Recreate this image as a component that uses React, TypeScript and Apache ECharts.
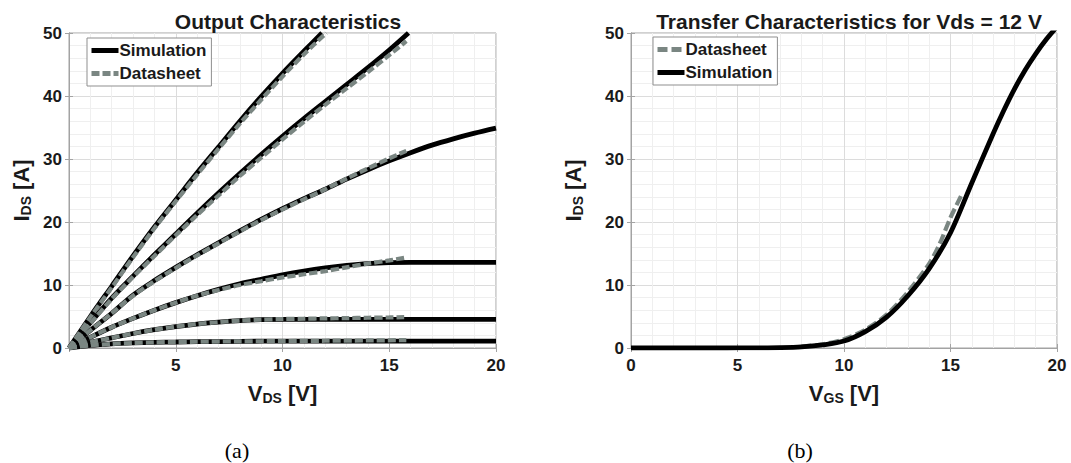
import React, { useEffect, useRef } from "react";
import * as echarts from "echarts";

// ---- Output characteristics (a): simulation curves [V_DS, I_DS]
const SIM_1 = [[0,0],[1,5],[2,9.8],[3,14.6],[4,19.2],[5,23.5],[6,27.8],[7,31.9],[8,36],[9,39.9],[10,43.6],[11,47.1],[11.85,50]];
const SIM_2 = [[0,0],[1,4],[2,7.9],[3,11.4],[4,14.8],[5,18.1],[6,21.4],[7,24.6],[8,27.7],[9,30.7],[10,33.6],[11,36.4],[12,39.1],[13,41.8],[14,44.5],[15,47.3],[15.9,50]];
const SIM_3 = [[0,0],[1,2.8],[2,5.5],[3,8.4],[4,10.7],[5,12.8],[6,14.8],[7,16.7],[8,18.6],[9,20.4],[10,22.1],[11,23.7],[12,25.2],[13,26.8],[14,28.3],[15,29.7],[16,31],[17,32.2],[18,33.2],[19,34.1],[20,34.9]];
const SIM_4 = [[0,0],[1,1.7],[2,3.3],[3,4.7],[4,6],[5,7.2],[6,8.3],[7,9.3],[8,10.2],[9,10.9],[10,11.6],[11,12.2],[12,12.7],[13,13.1],[14,13.4],[15,13.55],[16,13.6],[20,13.6]];
const SIM_5 = [[0,0],[1,0.9],[2,1.6],[3,2.3],[4,2.9],[5,3.4],[6,3.8],[7,4.1],[8,4.35],[9,4.5],[10,4.55],[11,4.55],[20,4.55]];
const SIM_6 = [[0,0],[1,0.4],[2,0.65],[3,0.8],[4,0.9],[5,0.95],[6,1],[8,1.05],[10,1.1],[20,1.1]];

// ---- Output characteristics (a): datasheet curves
const DS_1 = [[0,0],[1,4.9],[2,9.6],[3,14.4],[4,19],[5,23.3],[6,27.5],[7,31.6],[8,35.6],[9,39.4],[10,43.1],[11,46.6],[12.05,50]];
const DS_2 = [[0,0],[1,3.9],[2,7.8],[3,11.3],[4,14.6],[5,17.9],[6,21.1],[7,24.2],[8,27.3],[9,30.2],[10,33.1],[11,35.9],[12,38.6],[13,41.2],[14,43.8],[15,46.5],[15.8,48.7]];
const DS_3 = [[0,0],[1,2.8],[2,5.5],[3,8.3],[4,10.6],[5,12.7],[6,14.7],[7,16.6],[8,18.5],[9,20.3],[10,22],[11,23.6],[12,25.2],[13,26.9],[14,28.5],[15,30.1],[15.8,31.3]];
const DS_4 = [[0,0],[1,1.7],[2,3.3],[3,4.7],[4,6],[5,7.2],[6,8.3],[7,9.2],[8,10],[9,10.6],[10,11.2],[11,11.7],[12,12.2],[13,12.8],[14,13.4],[15,13.9],[15.7,14.3]];
const DS_5 = [[0,0],[1,0.9],[2,1.6],[3,2.3],[4,2.9],[5,3.4],[6,3.8],[7,4.1],[8,4.35],[9,4.5],[10,4.6],[11,4.65],[12,4.7],[13,4.75],[14,4.8],[15,4.85],[15.7,4.9]];
const DS_6 = [[0,0],[1,0.4],[2,0.65],[3,0.8],[4,0.9],[5,0.95],[6,1],[8,1.05],[10,1.1],[12,1.15],[14,1.2],[15.8,1.25]];

// ---- Transfer characteristics (b) [V_GS, I_DS]
const TR_SIM = [[0,0],[2,0],[4,0],[5,0.01],[6,0.02],[7,0.06],[8,0.18],[9,0.5],[10,1.1],[11,2.6],[12,4.9],[13,8.3],[14,12.6],[15,18.3],[16,26.2],[17,34],[17.5,37.7],[18,41.1],[18.5,44.1],[19,46.7],[19.5,49],[20,51]];
const TR_DS = [[8,0.22],[9,0.6],[10,1.4],[11,2.9],[12,5.3],[13,8.9],[14,13.4],[14.5,16.6],[15,20.7],[15.55,24.5]];

// ---- Ticks
const X_TICKS = [0, 5, 10, 15, 20];
const Y_TICKS = [0, 10, 20, 30, 40, 50];

const FONT = "'Liberation Sans', Arial, Helvetica, sans-serif";
const SERIF = "'Liberation Serif', 'Times New Roman', serif";
const TXT = "#1a1a1a";
const SIM_COLOR = "#000000";
const DS_COLOR = "#7a8682";
const FRAME = "#a3a3a3";

function axisName(main: string, sub: string, unit: string) {
  return `{m|${main}}{s|${sub}}{m| ${unit}}`;
}
const nameRich = {
  m: { fontSize: 22, fontWeight: "bold", fontFamily: FONT, color: TXT },
  s: { fontSize: 14, fontWeight: "bold", fontFamily: FONT, color: TXT, padding: [9, 0, 0, 0] },
};

function xAxes(gridIndex: number, hideZero: boolean, name: string, gap: number) {
  const base = {
    type: "value",
    gridIndex,
    min: X_TICKS[0],
    max: X_TICKS[X_TICKS.length - 1],
    interval: X_TICKS[1] - X_TICKS[0],
  };
  return [
    {
      ...base,
      position: "bottom",
      name,
      nameLocation: "middle",
      nameGap: gap,
      nameTextStyle: { rich: nameRich },
      axisLine: { show: true, lineStyle: { color: FRAME, width: 1 } },
      axisTick: { show: true, inside: true, length: 4, lineStyle: { color: FRAME } },
      axisLabel: {
        color: TXT,
        fontSize: 17,
        fontWeight: "bold",
        fontFamily: FONT,
        margin: 9,
        formatter: (v: number) => (hideZero && v === 0 ? "" : String(v)),
      },
      splitLine: { show: true, lineStyle: { color: "#dcdcdc", width: 1 } },
      minorTick: { show: false, splitNumber: 5 },
      minorSplitLine: { show: true, lineStyle: { color: "#efefef", width: 1 } },
    },
    {
      ...base,
      position: "top",
      axisLine: { show: true, lineStyle: { color: FRAME, width: 1 } },
      axisTick: { show: true, inside: true, length: 4, lineStyle: { color: FRAME } },
      axisLabel: { show: false },
      splitLine: { show: false },
    },
  ];
}

function yAxes(gridIndex: number, name: string, gap: number) {
  const base = {
    type: "value",
    gridIndex,
    min: Y_TICKS[0],
    max: Y_TICKS[Y_TICKS.length - 1],
    interval: Y_TICKS[1] - Y_TICKS[0],
  };
  return [
    {
      ...base,
      position: "left",
      name,
      nameLocation: "middle",
      nameGap: gap,
      nameRotate: 90,
      nameTextStyle: { rich: nameRich },
      axisLine: { show: true, lineStyle: { color: FRAME, width: 1 } },
      axisTick: { show: true, inside: true, length: 4, lineStyle: { color: FRAME } },
      axisLabel: { color: TXT, fontSize: 17, fontWeight: "bold", fontFamily: FONT, margin: 7 },
      splitLine: { show: true, lineStyle: { color: "#dcdcdc", width: 1 } },
      minorTick: { show: false, splitNumber: 5 },
      minorSplitLine: { show: true, lineStyle: { color: "#efefef", width: 1 } },
    },
    {
      ...base,
      position: "right",
      axisLine: { show: true, lineStyle: { color: FRAME, width: 1 } },
      axisTick: { show: true, inside: true, length: 4, lineStyle: { color: FRAME } },
      axisLabel: { show: false },
      splitLine: { show: false },
    },
  ];
}

function simSeries(name: string, data: number[][], xi: number, yi: number) {
  return {
    type: "line",
    name,
    data,
    xAxisIndex: xi,
    yAxisIndex: yi,
    symbol: "none",
    smooth: 0.3,
    lineStyle: { color: SIM_COLOR, width: 4.8 },
    itemStyle: { color: SIM_COLOR },
    z: 2,
  };
}
function dsSeries(name: string, data: number[][], xi: number, yi: number, dash: number[], z: number) {
  return {
    type: "line",
    name,
    data,
    xAxisIndex: xi,
    yAxisIndex: yi,
    symbol: "none",
    smooth: 0.3,
    lineStyle: { color: DS_COLOR, width: 4.2, type: dash, cap: "butt" },
    itemStyle: { color: DS_COLOR },
    z,
  };
}

const legendBase = {
  orient: "vertical",
  itemWidth: 27,
  itemHeight: 10,
  itemGap: 6,
  padding: [4, 5, 4, 2],
  borderColor: "#8f8f8f",
  borderWidth: 1,
  backgroundColor: "#fff",
  textStyle: { color: TXT, fontSize: 17, fontWeight: "bold", fontFamily: FONT, padding: [0, 0, 0, -4] },
  itemStyle: { opacity: 0 },
  lineStyle: { width: 5 },
  selectedMode: false,
};

export default function App() {
  const ref = useRef<HTMLDivElement>(null);
  useEffect(() => {
    document.body.style.margin = "0";
    const chart = echarts.init(ref.current!, null, { renderer: "svg" });
    const leftSim = [SIM_1, SIM_2, SIM_3, SIM_4, SIM_5, SIM_6];
    const leftDs = [DS_1, DS_2, DS_3, DS_4, DS_5, DS_6];
    const titleStyle = { fontSize: 21, fontWeight: "bold", fontFamily: FONT, color: TXT };
    const option: any = {
      animation: false,
      backgroundColor: "#ffffff",
      title: [
        { text: "Output Characteristics", left: 283, top: 6, textAlign: "center", textStyle: titleStyle },
        { text: "Transfer Characteristics for Vds = 12 V", left: 844, top: 6, textAlign: "center", textStyle: titleStyle },
        {
          text: "(a)",
          left: 232,
          top: 434,
          textAlign: "center",
          textStyle: { fontSize: 22, fontWeight: "normal", fontFamily: SERIF, color: "#000" },
        },
        {
          text: "(b)",
          left: 795,
          top: 434,
          textAlign: "center",
          textStyle: { fontSize: 22, fontWeight: "normal", fontFamily: SERIF, color: "#000" },
        },
      ],
      grid: [
        { left: 69, top: 33, width: 427, height: 315, show: true, borderColor: FRAME, borderWidth: 1, backgroundColor: "#fff" },
        { left: 631, top: 33, width: 426, height: 315, show: true, borderColor: FRAME, borderWidth: 1, backgroundColor: "#fff" },
      ],
      xAxis: [
        ...xAxes(0, true, axisName("V", "DS", "[V]"), 34),
        ...xAxes(1, false, axisName("V", "GS", "[V]"), 34),
      ],
      yAxis: [
        ...yAxes(0, axisName("I", "DS", "[A]"), 36),
        ...yAxes(1, axisName("I", "DS", "[A]"), 46),
      ],
      legend: [
        { ...legendBase, data: ["Simulation", "Datasheet"], left: 87, top: 38 },
        { ...legendBase, data: ["Datasheet ", "Simulation "], left: 653, top: 37, formatter: (n: string) => n.trim() },
      ],
      series: [
        ...leftSim.map((d) => simSeries("Simulation", d, 0, 0)),
        ...leftDs.map((d) => dsSeries("Datasheet", d, 0, 0, [8, 3], 3)),
        dsSeries("Datasheet ", TR_DS, 2, 2, [10, 4], 2),
        { ...simSeries("Simulation ", TR_SIM, 2, 2), z: 3 },
      ],
    };
    chart.setOption(option);
    return () => chart.dispose();
  }, []);
  return <div ref={ref} style={{ width: 1071, height: 463 }} />;
}
